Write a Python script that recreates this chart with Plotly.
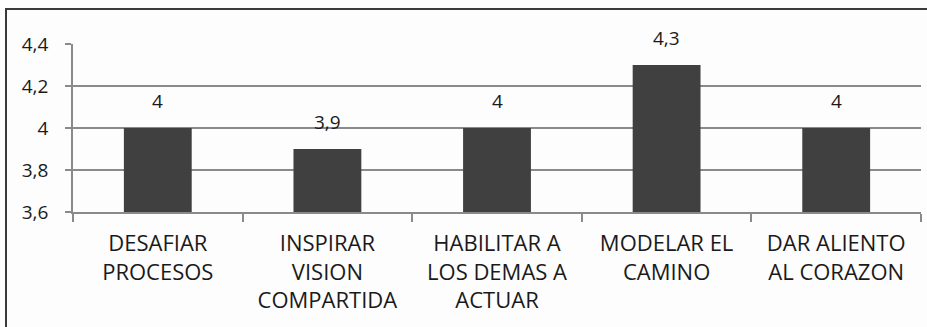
import plotly.graph_objects as go

categories = ["DESAFIAR<br>PROCESOS", "INSPIRAR<br>VISION<br>COMPARTIDA",
              "HABILITAR A<br>LOS DEMAS A<br>ACTUAR", "MODELAR EL<br>CAMINO",
              "DAR ALIENTO<br>AL CORAZON"]
values = [4.0, 3.9, 4.0, 4.3, 4.0]
value_labels = ["4", "3,9", "4", "4,3", "4"]
y_ticks = [3.6, 3.8, 4.0, 4.2, 4.4]
y_tick_labels = ["3,6", "3,8", "4", "4,2", "4,4"]

FONT = "Open Sans"
TXT = "#1a1a1a"

fig = go.Figure(go.Bar(
    x=categories, y=values, marker=dict(color="#404040", line=dict(width=0)),
    width=0.4,
))

for c, v, t in zip(categories, values, value_labels):
    fig.add_annotation(x=c, y=v, text=t, showarrow=False, yanchor="bottom",
                       yshift=12, font=dict(family=FONT, size=19, color=TXT))

fig.update_layout(
    width=927, height=327,
    margin=dict(l=73, r=6, t=44, b=115),
    paper_bgcolor="#fdfdfd", plot_bgcolor="#fdfdfd",
    showlegend=False,
    font=dict(family=FONT, color=TXT),
)
fig.update_xaxes(
    showgrid=False, showline=True, linecolor="#8a8a8a", linewidth=1.5,
    ticks="outside", ticklen=8, tickcolor="#8a8a8a", tickwidth=1.5,
    tickson="boundaries", tickfont=dict(family=FONT, size=22, color=TXT),
    ticklabelstandoff=11, range=[-0.5, 4.5],
)
fig.update_yaxes(
    range=[3.6, 4.4], tickvals=y_ticks, ticktext=y_tick_labels,
    showgrid=True, gridcolor="#8a8a8a", gridwidth=1.8,
    showline=True, linecolor="#8a8a8a", linewidth=1.8,
    ticks="outside", ticklen=6, tickcolor="#8a8a8a", tickwidth=1.5,
    tickfont=dict(family=FONT, size=19, color=TXT),
    ticklabelstandoff=13, zeroline=False,
)
# outer chart frame
fig.add_shape(type="rect", xref="paper", yref="paper",
              x0=(6 - 73) / 848, x1=(940 - 73) / 848,
              y0=(212 - 340) / 168, y1=(212 - 9) / 168,
              line=dict(color="#3a3a3a", width=2), fillcolor="rgba(0,0,0,0)")

fig.write_html("out.html")
